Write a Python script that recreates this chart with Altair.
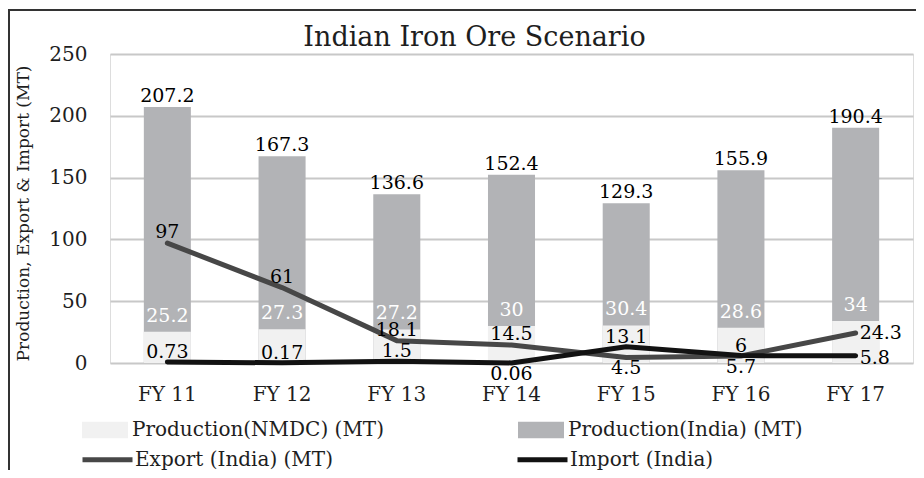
import altair as alt
import pandas as pd

# ---- data ----
categories = ["FY 11", "FY 12", "FY 13", "FY 14", "FY 15", "FY 16", "FY 17"]
production_india = [207.2, 167.3, 136.6, 152.4, 129.3, 155.9, 190.4]
production_nmdc = [25.2, 27.3, 27.2, 30, 30.4, 28.6, 34]
export_india = [97, 61, 18.1, 14.5, 4.5, 5.7, 24.3]
import_india = [0.73, 0.17, 1.5, 0.06, 13.1, 6, 5.8]

SERIES_NMDC = "Production(NMDC) (MT)"
SERIES_INDIA = "Production(India) (MT)"
SERIES_EXPORT = "Export (India) (MT)"
SERIES_IMPORT = "Import (India)"

# label placement (which categories get labels below / to the right)
EXPORT_BELOW = ["FY 15", "FY 16"]
EXPORT_RIGHT = ["FY 17"]
IMPORT_BELOW = ["FY 14"]
IMPORT_RIGHT = ["FY 17"]

FONT = "DejaVu Serif"
TEXT_COLOR = "#1e1e1e"
Y_TITLE = "Production, Export & Import (MT)"

df = pd.DataFrame({
    "cat": categories,
    "india": production_india,
    "nmdc": production_nmdc,
    "exp": export_india,
    "imp": import_india,
})

base = alt.Chart(df)

x_enc = alt.X(
    "cat:N", sort=categories,
    scale=alt.Scale(paddingInner=0.59, paddingOuter=0.295),
    axis=alt.Axis(title=None, labelAngle=0, labelFont=FONT, labelFontSize=20,
                  labelColor=TEXT_COLOR, labelPadding=21, domain=False, ticks=False,
                  grid=False),
)

y_axis = alt.Axis(
    values=[0, 50, 100, 150, 200, 250], title=Y_TITLE, titleFont=FONT,
    titleFontSize=17, titleFontWeight="normal", titleColor=TEXT_COLOR,
    titleX=-87, titleY=159, titleAngle=-90, titleAlign="center", titleBaseline="middle",
    labelFont=FONT, labelFontSize=20, labelColor=TEXT_COLOR, labelPadding=23,
    domain=False, ticks=False, grid=True, gridColor="#c8c8c8", gridWidth=2,
)
y_scale = alt.Scale(domain=[0, 250], nice=False)


def yenc(field):
    return alt.Y(f"{field}:Q", scale=y_scale, axis=y_axis, title=Y_TITLE)


fill_scale = alt.Scale(domain=[SERIES_NMDC, SERIES_INDIA], range=["#f1f1f1", "#b2b3b6"])
stroke_scale = alt.Scale(domain=[SERIES_EXPORT, SERIES_IMPORT], range=["#474747", "#121212"])

fill_legend = alt.Legend(
    title=None, orient="none", legendX=-28, legendY=353, direction="horizontal",
    columns=2, columnPadding=133, symbolType="M-1,-0.36L1,-0.36L1,0.36L-1,0.36Z",
    symbolSize=2116, symbolStrokeWidth=0, symbolOpacity=1, labelFont=FONT,
    labelFontSize=20, labelColor=TEXT_COLOR, labelOffset=4, labelLimit=500,
)
stroke_legend = alt.Legend(
    title=None, orient="none", legendX=-30, legendY=378, direction="horizontal",
    columns=2, columnPadding=174, symbolType="stroke", symbolSize=2500,
    symbolStrokeWidth=5, labelFont=FONT, labelFontSize=20, labelColor=TEXT_COLOR,
    labelOffset=0, labelLimit=500,
)

bar_india = base.transform_calculate(series=f"'{SERIES_INDIA}'").mark_bar().encode(
    x=x_enc, y=yenc("india"),
    fill=alt.Fill("series:N", scale=fill_scale, legend=fill_legend),
)
bar_nmdc = base.transform_calculate(series=f"'{SERIES_NMDC}'").mark_bar().encode(
    x=x_enc, y=yenc("nmdc"),
    fill=alt.Fill("series:N", scale=fill_scale, legend=fill_legend),
)

line_export = base.transform_calculate(series=f"'{SERIES_EXPORT}'").mark_line(
    strokeWidth=5, strokeCap="round", strokeJoin="round").encode(
    x=x_enc, y=yenc("exp"),
    stroke=alt.Stroke("series:N", scale=stroke_scale, legend=stroke_legend),
)
line_import = base.transform_calculate(series=f"'{SERIES_IMPORT}'").mark_line(
    strokeWidth=5, strokeCap="round", strokeJoin="round").encode(
    x=x_enc, y=yenc("imp"),
    stroke=alt.Stroke("series:N", scale=stroke_scale, legend=stroke_legend),
)


def label(field, chart, color="#000000", weight="normal", dx=0, dy=-11, align="center"):
    return chart.mark_text(font=FONT, fontSize=19, fontWeight=weight, color=color,
                           baseline="middle", align=align, dx=dx, dy=dy).encode(
        x=x_enc, y=yenc(field), text=alt.Text(f"{field}:Q", format=".4~g"))


lbl_india = label("india", base, dy=-11)
lbl_nmdc = label("nmdc", base, color="#ffffff", dy=-16)

exp_above = base.transform_filter(
    ~alt.FieldOneOfPredicate(field="cat", oneOf=EXPORT_BELOW + EXPORT_RIGHT))
exp_below = base.transform_filter(alt.FieldOneOfPredicate(field="cat", oneOf=EXPORT_BELOW))
exp_right = base.transform_filter(alt.FieldOneOfPredicate(field="cat", oneOf=EXPORT_RIGHT))
imp_above = base.transform_filter(
    ~alt.FieldOneOfPredicate(field="cat", oneOf=IMPORT_BELOW + IMPORT_RIGHT))
imp_below = base.transform_filter(alt.FieldOneOfPredicate(field="cat", oneOf=IMPORT_BELOW))
imp_right = base.transform_filter(alt.FieldOneOfPredicate(field="cat", oneOf=IMPORT_RIGHT))

labels = [
    label("exp", exp_above, dy=-11),
    label("exp", exp_below, dy=11),
    label("exp", exp_right, dx=4, dy=0, align="left"),
    label("imp", imp_above, dy=-10),
    label("imp", imp_below, dy=11),
    label("imp", imp_right, dx=4, dy=2, align="left"),
]

frame_top = alt.Chart(pd.DataFrame({"a": [0]})).mark_rule(color="#333333", strokeWidth=2).encode(
    x=alt.value(-102), x2=alt.value(806), y=alt.value(-44))
frame_left = alt.Chart(pd.DataFrame({"a": [0]})).mark_rule(color="#333333", strokeWidth=2).encode(
    x=alt.value(-101), y=alt.value(-44), y2=alt.value(416))

chart = alt.layer(
    bar_india, bar_nmdc, line_export, line_import, lbl_india, lbl_nmdc, *labels,
    frame_top, frame_left,
).properties(
    width=803, height=309,
    title=alt.TitleParams("Indian Iron Ore Scenario", font=FONT, fontSize=27,
                          fontWeight="normal", color=TEXT_COLOR, anchor="middle",
                          dx=-37, dy=43, offset=0),
    autosize=alt.AutoSizeParams(type="none"),
    padding={"left": 102, "top": 46, "right": 3, "bottom": 107},
).configure_view(stroke=None).configure(background="white")

chart.save("out.html", embed_options={"renderer": "svg", "actions": False})
